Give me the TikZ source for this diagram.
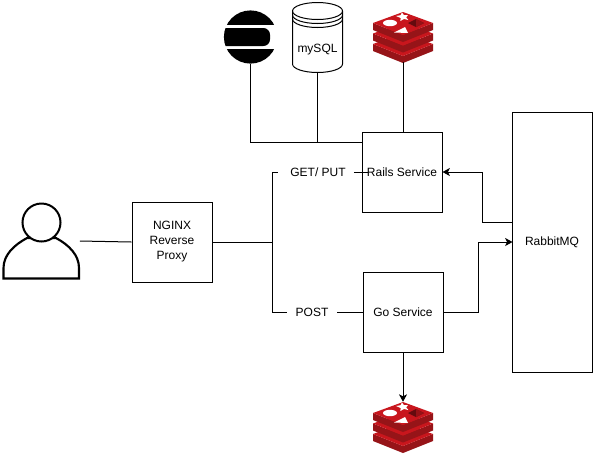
\documentclass[tikz,border=0pt]{standalone}
\usepackage{fontspec}
\setmainfont{Liberation Sans}
\usetikzlibrary{arrows.meta}
\definecolor{redisred}{RGB}{200,22,29}
\definecolor{redisdark}{RGB}{150,20,24}
\tikzset{
  box/.style={draw,line width=0.75pt,minimum width=60pt,minimum height=60pt,inner sep=0pt,align=center,font=\fontsize{9pt}{11.25pt}\selectfont},
  txt/.style={inner sep=0pt,font=\fontsize{9pt}{11.25pt}\selectfont},
  hole/.style={inner sep=0pt,minimum width=#1},
  line/.style={line width=0.75pt},
  arrow/.style={line width=0.75pt,-{Stealth[length=5.5pt,width=6pt,inset=1.4pt]}}
}
% red stack, #1 is the middle of its top corner
\newcommand{\redisicon}[1]{
  \begin{scope}[shift={#1}]
    \foreach \dy in {21,10.5,0}{
      \fill[redisdark] (-30,11+\dy) -- (0,23+\dy) -- (30,11+\dy) -- (30,18+\dy) -- (0,30+\dy) -- (-30,18+\dy) -- cycle;
      \fill[redisred] (-30,11+\dy) -- (0,0+\dy) -- (30,11+\dy) -- (0,23+\dy) -- cycle;
    }
    % signs on the top face
    \fill[white] (-13,11) ellipse (7 and 3.2);
    \fill[white] (-1,0.5) -- (1,3.2) -- (5,3) -- (3.2,5.4) -- (5.4,8) -- (1,7) -- (-2.6,9) -- (-2.4,6) -- (-7,4) -- (-2.4,3.2) -- cycle;
    \fill[white] (-9,20.5) -- (2,15) -- (5,21) -- cycle;
    \fill[black!50!redisred] (5,11) -- (13,7) -- (21,11) -- (13,15) -- cycle;
    \fill[black!25!redisred] (13,7) -- (21,11) -- (13,15) -- cycle;
  \end{scope}
}
\begin{document}
\begin{tikzpicture}[x=0.75pt,y=0.75pt,yscale=-1,xscale=1]
\useasboundingbox (0,0) rectangle (595,455);

% Icons
\node (elastic) [hole=40pt,minimum height=40pt] at (250,37) {};
\begin{scope}
\clip (250.5,37) circle (26.6);
\fill (220,8) rectangle (280,25);
\fill[rounded corners=5pt] (215,28) rectangle (270,46);
\fill (220,49) rectangle (280,66);
\end{scope}

\node (mysql) [hole=37.5pt,minimum height=52.5pt] at (317.5,37.5) {};
\draw[line,fill=white] (292.5,11) arc (180:360:25 and 8.5) -- (342.5,64) arc (0:180:25 and 8.5) -- cycle;
\draw[line] (292.5,11) arc (180:0:25 and 8.5);
\draw[line] (292.5,15) arc (180:0:25 and 8.5);
\draw[line] (292.5,19) arc (180:0:25 and 8.5);
\node (mysqllabel) [txt] at (317.5,50) {mySQL};

\node (redistop) [hole=45pt,minimum height=37.5pt] at (403,37) {};
\redisicon{(403,12)}
\node (redisbottom) [hole=45pt,minimum height=37.5pt] at (403,427) {};
\redisicon{(403,402)}

% User
\node (user) [hole=57pt,minimum height=57pt] at (41.5,241) {};
\draw[line width=1.6pt,fill=white] (3.5,278.5) -- (3.5,268) .. controls (3.5,255) and (14,245) .. (27,238) -- (56,238) .. controls (69,245) and (79,255) .. (79,268) -- (79,278.5) -- cycle;
\draw[line width=1.5pt,fill=white] (41.5,222.5) circle (19);

% Boxes
\node (nginx) [box] at (172,242) {NGINX\\Reverse\\Proxy};
\node (rails) [box] at (402,172) {Rails Service};
\node (go) [box] at (403,312) {Go Service};
\node (rabbit) [box,minimum height=195pt] at (552,242.5) {RabbitMQ};

% Labels on the lines
\node (getput) [txt] at (318,172.5) {GET/ PUT};
\node (post) [txt] at (312,312.5) {POST};

\coordinate (fork) at (272,242);
\coordinate (railsend) at (368,172);
\coordinate (rabbitout) at (512.5,222);
\coordinate (rabbitin) at (512.5,242);
\coordinate (railsback) at (362,142);

% Connectors
\draw[line] (user.east) -- (nginx.west);
\draw[line] (nginx.east) -- (fork);
\draw[line] (fork) |- ([xshift=-9pt]getput.west |- railsend);
\draw[line] (fork) |- ([xshift=-6.5pt]post.west |- go.west);
\draw[line] ([xshift=6pt]getput.east |- railsend) -- (railsend);
\draw[line] ([xshift=6.5pt]post.east |- go.west) -- (go.west);
\draw[line] (elastic.south) -- (250,142) -- (railsback);
\draw[line] (mysql.south) -- (317.5,142);
\draw[line] (redistop.south) -- (rails.north -| redistop.south);
\draw[arrow] (rabbitout) -- (482.5,222) -- (482.5,172) -- (rails.east);
\draw[arrow] (go.east) -- (478,312) -- (478,242) -- (rabbitin);
\draw[arrow] (go.south) -- (redisbottom.north);

\end{tikzpicture}
\end{document}
